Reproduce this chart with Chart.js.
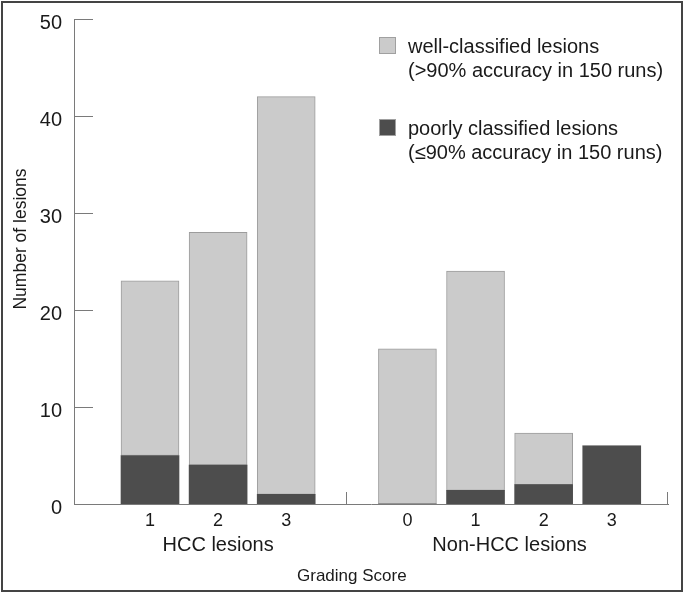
<!DOCTYPE html>
<html>
<head>
<meta charset="utf-8">
<script src="https://cdn.jsdelivr.net/npm/chart.js@4.4.1/dist/chart.umd.min.js"></script>
<style>
    body { margin: 0; background: #fff; }
    #wrap { width: 685px; height: 594px; }
</style>
</head>
<body>
<div id="wrap"><canvas id="chart" width="685" height="594"></canvas></div>
<script>
// values
const hccGrades = ['1', '2', '3'];
const nonHccGrades = ['0', '1', '2', '3'];
const groupNames = ['HCC lesions', 'Non-HCC lesions'];
const hccPoor = [5, 4, 1];
const hccWell = [18, 24, 41];
const nonHccPoor = [0, 1.4, 2, 6];
const nonHccWell = [16, 22.6, 5.3, 0];
const yTicks = [0, 10, 20, 30, 40, 50];
const seriesLabels = ['poorly classified lesions', 'well-classified lesions'];
const seriesNotes = ['(\u226490% accuracy in 150 runs)', '(>90% accuracy in 150 runs)'];
const xTitle = 'Grading Score';
const yTitle = 'Number of lesions';

const FONT = '"Liberation Sans", Arial, sans-serif';
const GAP = 0.78;
const axisColor = '#7a7a7a';
const textColor = '#1a1a1a';

Chart.defaults.font.family = FONT;
Chart.defaults.color = textColor;

const grades = hccGrades.concat(nonHccGrades);
const xPos = hccGrades.map((g, i) => i)
    .concat(nonHccGrades.map((g, j) => hccGrades.length + GAP + j));
const sepPos = (hccGrades.length - 1 + hccGrades.length + GAP) / 2;

const toPoints = (a, b) => a.concat(b).map((v, i) => ({x: xPos[i], y: v}));

const extras = {
    id: 'extras',
    afterDraw(chart) {
        const ctx = chart.ctx;
        const xs = chart.scales.x;
        const ys = chart.scales.y;
        const area = chart.chartArea;
        ctx.save();

        // inward ticks on the y axis
        ctx.strokeStyle = axisColor;
        ctx.lineWidth = 1;
        ctx.beginPath();
        yTicks.forEach(v => {
            const y = Math.round(ys.getPixelForValue(v)) + 0.5;
            ctx.moveTo(area.left, y);
            ctx.lineTo(area.left + 19, y);
        });
        // group separator and end tick on the x axis
        [xs.getPixelForValue(sepPos), area.right].forEach(px => {
            const x = Math.round(px) - 0.5;
            ctx.moveTo(x, area.bottom);
            ctx.lineTo(x, area.bottom - 12);
        });
        ctx.stroke();

        // group names
        ctx.fillStyle = textColor;
        ctx.textAlign = 'center';
        ctx.textBaseline = 'middle';
        ctx.font = '20px ' + FONT;
        const hccMid = (xs.getPixelForValue(xPos[0]) + xs.getPixelForValue(xPos[hccGrades.length - 1])) / 2;
        const nonMid = (xs.getPixelForValue(xPos[hccGrades.length]) + xs.getPixelForValue(xPos[xPos.length - 1])) / 2;
        ctx.fillText(groupNames[0], hccMid, 545);
        ctx.fillText(groupNames[1], nonMid, 545);

        ctx.font = '17px ' + FONT;
        ctx.fillText(xTitle, xs.getPixelForValue(sepPos) + 5, 576);

        ctx.save();
        ctx.translate(21, 239);
        ctx.rotate(-Math.PI / 2);
        ctx.font = '17.5px ' + FONT;
        ctx.fillText(yTitle, 0, 0);
        ctx.restore();

        // legend, well-classified first
        ctx.textAlign = 'left';
        ctx.font = '20px ' + FONT;
        const ds = chart.data.datasets.slice().reverse();
        ds.forEach((d, i) => {
            const top = 37 + i * 82;
            ctx.fillStyle = d.backgroundColor;
            ctx.fillRect(379, top, 17, 17);
            ctx.strokeStyle = '#a0a0a0';
            ctx.strokeRect(379.5, top + 0.5, 16, 16);
            ctx.fillStyle = textColor;
            ctx.fillText(d.label, 408, top + 10);
            ctx.fillText(d.note, 408, top + 34);
        });

        // frame
        ctx.strokeStyle = '#444';
        ctx.lineWidth = 2;
        ctx.strokeRect(2, 2, 680, 589);
        ctx.restore();
    }
};

const chart = new Chart(document.getElementById('chart'), {
    type: 'bar',
    data: {
        datasets: [{
            label: seriesLabels[0],
            note: seriesNotes[0],
            data: toPoints(hccPoor, nonHccPoor),
            backgroundColor: '#4d4d4d',
            borderWidth: 0,
            barThickness: 58
        }, {
            label: seriesLabels[1],
            note: seriesNotes[1],
            data: toPoints(hccWell, nonHccWell),
            backgroundColor: '#cbcbcb',
            borderColor: '#9c9c9c',
            borderWidth: c => (c.raw && c.raw.y > 0 ? 1 : 0),
            borderSkipped: false,
            barThickness: 58
        }]
    },
    options: {
        responsive: false,
        animation: false,
        layout: { padding: { top: 19, right: 17, bottom: 0, left: 0 } },
        plugins: {
            legend: { display: false },
            tooltip: { enabled: false }
        },
        scales: {
            x: {
                type: 'linear',
                stacked: true,
                offset: false,
                min: -1.116,
                max: 7.606,
                afterBuildTicks: axis => {
                    axis.ticks = xPos.map(v => ({value: v}));
                },
                afterFit: axis => {
                    axis.height = 90;
                    axis.paddingLeft = 0;
                    axis.paddingRight = 0;
                },
                grid: { display: false, drawTicks: false },
                border: { display: true, color: axisColor, width: 1 },
                ticks: {
                    autoSkip: false,
                    maxRotation: 0,
                    padding: 6,
                    font: { size: 18 },
                    color: textColor,
                    callback: (v, i) => grades[i]
                }
            },
            y: {
                stacked: true,
                min: 0,
                max: 50,
                afterBuildTicks: axis => {
                    axis.ticks = yTicks.map(v => ({value: v}));
                },
                afterFit: axis => {
                    axis.width = 74;
                    axis.paddingTop = 0;
                    axis.paddingBottom = 0;
                },
                grid: { display: false, drawTicks: false },
                border: { display: true, color: axisColor, width: 1 },
                ticks: {
                    padding: 12,
                    labelOffset: 4,
                    font: { size: 20 },
                    color: textColor
                }
            }
        }
    },
    plugins: [extras]
});
</script>
</body>
</html>
